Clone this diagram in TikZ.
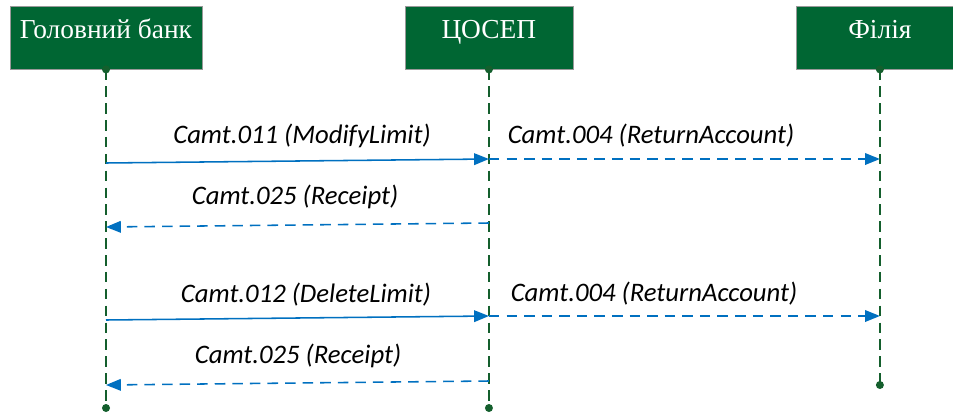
\documentclass[tikz,border=0pt]{standalone}
\usepackage{fontspec}
\setmainfont{Liberation Serif}
\newfontfamily\msgfont{Carlito}
\usetikzlibrary{positioning,arrows.meta,calc}
\definecolor{boxgreen}{RGB}{0,102,51}
\definecolor{linegreen}{RGB}{20,95,45}
\definecolor{msgblue}{RGB}{0,112,192}

\begin{document}
\begin{tikzpicture}[
      x=0.025cm, y=-0.025cm,
      >={Triangle[length=0.37cm,width=0.29cm]}
    ]

    \tikzstyle{party} = [rectangle, fill=boxgreen, draw=gray!80, line width=0.6pt, text=white, font=\fontsize{19.5}{24}\selectfont, minimum height=1.575cm, text height=0.475cm, text depth=0.45cm, inner sep=0pt]

    \tikzstyle{life} = [linegreen, line width=1.1pt, dash pattern=on 7.5pt off 4.5pt]
    \tikzstyle{msg} = [msgblue, line width=1.1pt, ->]
    \tikzstyle{reply} = [msg, dash pattern=on 7.5pt off 5pt]
    \tikzstyle{lbl} = [font=\msgfont\itshape\fontsize{19}{22}\selectfont, inner sep=0pt]
    \tikzstyle{dot} = [circle, fill=linegreen, inner sep=0pt, minimum size=0.2cm]

    \useasboundingbox (0,0) rectangle (953,414);

    \node [party, minimum width=4.8cm] (bank) at (106,37.5) {Головний банк};
    \node [party, minimum width=4.2cm, node distance=5.05cm, right=of bank] (cosep) {ЦОСЕП};
    \node [party, minimum width=4.15cm, node distance=5.575cm, right=of cosep] (branch) {Філія};

    % lifelines
    \coordinate (bankEnd) at (bank.south |- 0,408);
    \coordinate (cosepEnd) at (cosep.south |- 0,408);
    \coordinate (branchEnd) at (branch.south |- 0,385);

    \draw [life] (bank.south) -- (bankEnd);
    \draw [life] (cosep.south) -- (cosepEnd);
    \draw [life] (branch.south) -- (branchEnd);

    % message points
    \coordinate (bankA) at (bank.south |- 0,163);
    \coordinate (cosepA) at (cosep.south |- 0,159);
    \coordinate (branchA) at (branch.south |- 0,159);
    \coordinate (cosepB) at (cosep.south |- 0,223);
    \coordinate (bankB) at (bank.south |- 0,227);
    \coordinate (bankC) at (bank.south |- 0,320);
    \coordinate (cosepC) at (cosep.south |- 0,316);
    \coordinate (branchC) at (branch.south |- 0,316);
    \coordinate (cosepD) at (cosep.south |- 0,381);
    \coordinate (bankD) at (bank.south |- 0,385);

    \draw [msg] (bankA) -- (cosepA);
    \draw [reply] (cosepA) -- (branchA);
    \draw [reply] (cosepB) -- (bankB);
    \draw [msg] (bankC) -- (cosepC);
    \draw [reply] (cosepC) -- (branchC);
    \draw [reply] (cosepD) -- (bankD);

    \node [lbl] (modify) at (302,136) {Camt.011 (ModifyLimit)};
    \node [lbl] (return1) at (651,136) {Camt.004 (ReturnAccount)};
    \node [lbl] (receipt1) at (295,197) {Camt.025 (Receipt)};
    \node [lbl] (delete) at (306,295) {Camt.012 (DeleteLimit)};
    \node [lbl] (return2) at (654,294) {Camt.004 (ReturnAccount)};
    \node [lbl] (receipt2) at (298,356) {Camt.025 (Receipt)};

    % end dots
    \node [dot] (bankTop) at (bank.south) {};
    \node [dot] (cosepTop) at (cosep.south) {};
    \node [dot] (branchTop) at (branch.south) {};
    \node [dot] (bankBot) at (bankEnd) {};
    \node [dot] (cosepBot) at (cosepEnd) {};
    \node [dot] (branchBot) at (branchEnd) {};

\end{tikzpicture}
\end{document}
